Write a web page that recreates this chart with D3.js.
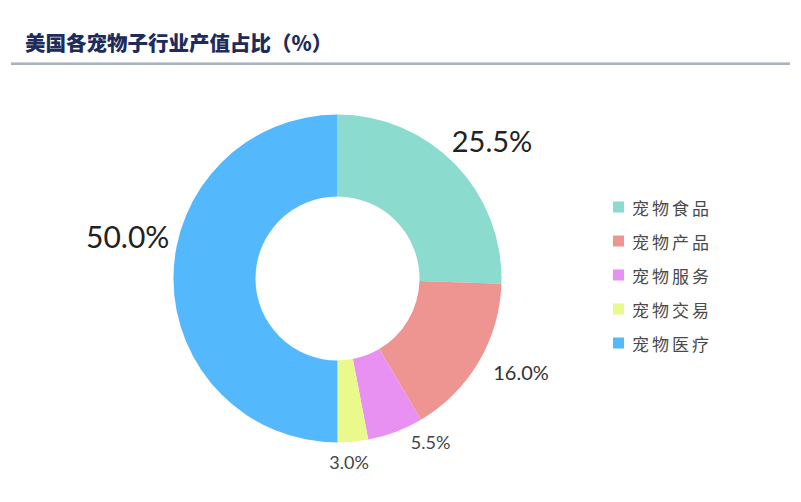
<!DOCTYPE html>
<html>
<head>
<meta charset="utf-8">
<script src="https://cdn.jsdelivr.net/npm/d3@7"></script>
<style>
  html, body { margin: 0; padding: 0; background: #fff; }
  svg { display: block; }
</style>
</head>
<body>
<svg id="chart" width="801" height="502"></svg>
<script>
const title = "美国各宠物子行业产值占比（%）";
const categories = ["宠物食品", "宠物产品", "宠物服务", "宠物交易", "宠物医疗"];
const values = [25.5, 16.0, 5.5, 3.0, 50.0];
const colors = ["#8cdbcf", "#ee9592", "#e891f2", "#e9f98c", "#54b8fd"];

// layout / styling (not data)
const cx = 337.5, cy = 278.5, outerR = 164, innerR = 82;
const labelStyle = [
  { size: 29, r: 207, dAng: 2.4, color: "#222" },
  { size: 20, r: 206, dAng: -3.6, color: "#333" },
  { size: 18, r: 188, dAng: -9, color: "#444" },
  { size: 18, r: 184, dAng: 1.8, color: "#444" },
  { size: 30, r: 214, dAng: 11.4, color: "#222" }
];

const svg = d3.select("#chart");

// title
svg.append("text")
  .attr("x", 25).attr("y", 51)
  .attr("font-family", "'Noto Sans CJK SC', sans-serif")
  .attr("font-weight", 900)
  .attr("font-size", 20.5)
  .attr("fill", "#1e2c5c")
  .text(title);

// divider
svg.append("rect").attr("x", 11).attr("y", 62).attr("width", 779).attr("height", 3).attr("fill", "#a9b3bf");
svg.append("rect").attr("x", 11).attr("y", 62).attr("width", 779).attr("height", 1).attr("fill", "#c9d0d8");

const data = categories.map((c, i) => ({ cat: c, value: values[i], color: colors[i], i }));

const pie = d3.pie().value(d => d.value).sort(null).startAngle(0).endAngle(2 * Math.PI);
const arcs = pie(data);
const arc = d3.arc().innerRadius(innerR).outerRadius(outerR);

const g = svg.append("g").attr("transform", `translate(${cx},${cy})`);
g.selectAll("path.slice").data(arcs).enter().append("path")
  .attr("class", "slice")
  .attr("d", arc)
  .attr("fill", d => d.data.color);

// labels
g.selectAll("text.lbl").data(arcs).enter().append("text")
  .attr("class", "lbl")
  .attr("font-family", "Lato, 'Open Sans', sans-serif")
  .attr("text-anchor", "middle")
  .attr("dominant-baseline", "central")
  .attr("font-size", d => labelStyle[d.index].size)
  .attr("fill", d => labelStyle[d.index].color)
  .attr("transform", d => {
    const s = labelStyle[d.index];
    const a = (d.startAngle + d.endAngle) / 2 + s.dAng * Math.PI / 180;
    return `translate(${Math.sin(a) * s.r},${-Math.cos(a) * s.r})`;
  })
  .text(d => d.data.value.toFixed(1) + "%");

// legend
const legend = svg.append("g").attr("transform", "translate(613,207)");
const item = legend.selectAll("g").data(data).enter().append("g")
  .attr("transform", (d, i) => `translate(0,${i * 34})`);
item.append("rect").attr("x", 0).attr("y", -5.5).attr("width", 11).attr("height", 11)
  .attr("fill", d => d.color);
item.append("text")
  .attr("x", 19).attr("y", 0)
  .attr("dominant-baseline", "central")
  .attr("font-family", "'Noto Sans CJK SC', sans-serif")
  .attr("font-size", 17)
  .attr("letter-spacing", 3)
  .attr("fill", "#4a4a4a")
  .text(d => d.cat);
</script>
</body>
</html>
